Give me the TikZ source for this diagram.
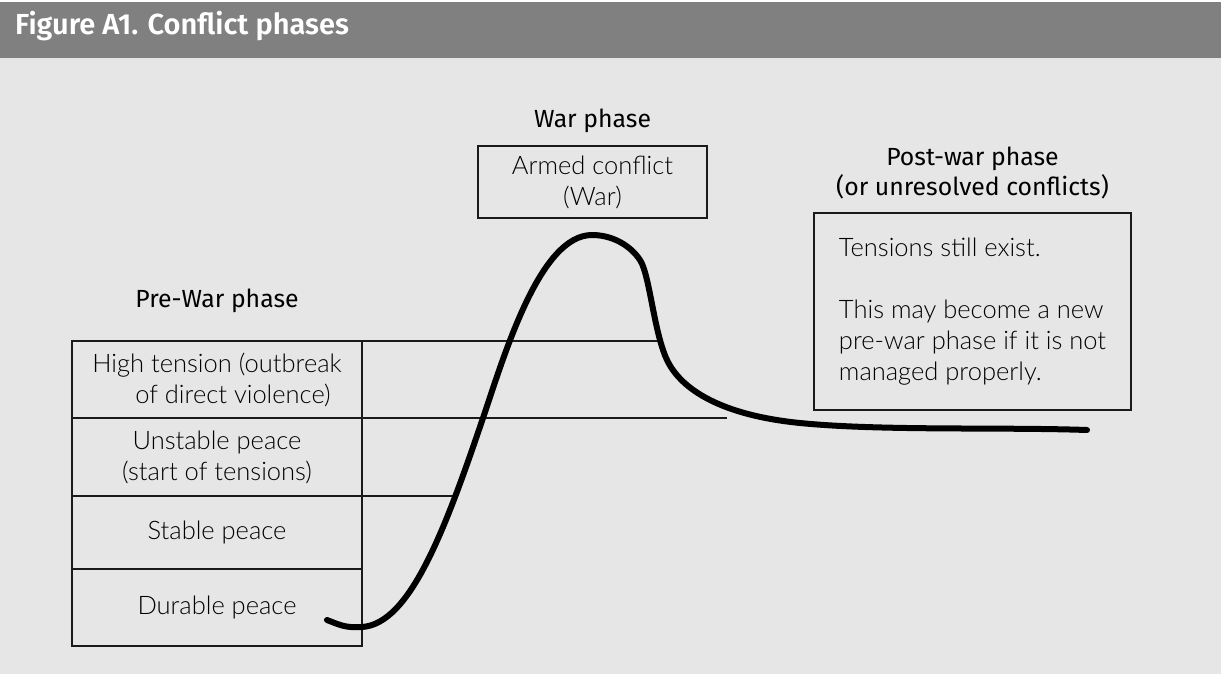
\documentclass[tikz,border=0pt]{standalone}
\usepackage{fontspec}
\setmainfont{Lato Light}
\newfontfamily\headfont{Fira Sans}
\newfontfamily\titlefont{Fira Sans SemiBold}
\usetikzlibrary{positioning}
\definecolor{barGray}{RGB}{128,128,128}
\definecolor{panelGray}{RGB}{230,230,230}
\definecolor{edgeGray}{RGB}{26,26,26}

\begin{document}
\begin{tikzpicture}[%
    x=1pt,
    y=-1pt,
    title/.style={%
        anchor=base west,
        inner sep=0pt,
        text=white,
        font=\titlefont\fontsize{29}{34}\selectfont
    },
    heading/.style={%
        inner sep=0pt,
        align=center,
        font=\headfont\fontsize{24.8}{30}\selectfont
    },
    phase/.style={%
        draw=edgeGray,
        line width=1.2pt,
        rectangle,
        inner sep=0pt,
        outer sep=0pt,
        align=center,
        font=\fontsize{25.5}{31}\selectfont
    },
    level/.style={%
        phase,
        minimum width=290pt,
        minimum height=77pt
    },
    guide/.style={%
        draw=edgeGray,
        line width=1.2pt
    },
    curve/.style={%
        line width=6pt,
        line cap=round,
        line join=round
    }
]
\useasboundingbox (0,0) rectangle (1221,674);

% Background
\fill[white] (0,0) rectangle (1221,674);
\fill[panelGray] (0,58) rectangle (1221,674);
\fill[barGray] (0,2) rectangle (1221,58);

% Title
\node[title] (title) at (15,35) {Figure A1. Conflict phases};

% Pre-war phase
\node[level, anchor=north west] (highTension) at (72,341) {High tension (outbreak\\\hspace*{32pt}of direct violence)};
\node[level, minimum height=78pt, below=0pt of highTension] (unstablePeace) {Unstable peace\\(start of tensions)};
\node[level, minimum height=73pt, below=0pt of unstablePeace] (stablePeace) {Stable peace};
\node[level, below=0pt of stablePeace] (durablePeace) {Durable peace};
\node[heading, above=28pt of highTension] (preWar) {Pre-War phase};

% War phase
\node[phase, minimum width=229pt, minimum height=72pt] (armedConflict) at (592.5,182) {Armed conflict\\(War)};
\node[heading, above=13pt of armedConflict] (warPhase) {War phase};

% Post-war phase
\node[phase, align=left, minimum width=317pt, minimum height=197pt, anchor=north west] (postWarBox) at (814,213) {Tensions still exist.\\[31pt]This may become a new\\pre-war phase if it is not\\managed properly.};
\node[heading, above=14pt of postWarBox] (postWar) {Post-war phase\\(or unresolved conflicts)};

% Guide lines
\coordinate (guideA) at (658,341);
\coordinate (guideB) at (727,418);
\coordinate (guideC) at (455,496);
\draw[guide] (highTension.north east) -- (guideA);
\draw[guide] (unstablePeace.north east) -- (guideB);
\draw[guide] (stablePeace.north east) -- (guideC);

% Conflict curve
\draw[curve] (327,620) .. controls (340,625) and (345,628) .. (362,627)
    .. controls (410,624) and (445,530) .. (483,418)
    .. controls (505,353) and (540,235) .. (592,235)
    .. controls (612,235) and (630,245) .. (640,260)
    .. controls (650,275) and (654,335) .. (668,362)
    .. controls (682,389) and (720,415) .. (800,423)
    .. controls (880,431) and (1000,427) .. (1087,430);

\end{tikzpicture}
\end{document}
